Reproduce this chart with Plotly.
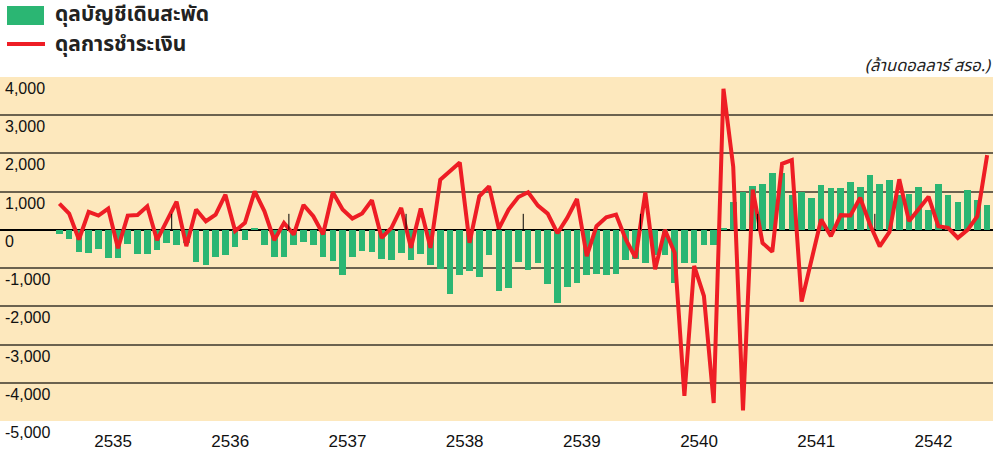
import plotly.graph_objects as go

years = [2535, 2536, 2537, 2538, 2539, 2540, 2541, 2542]
months_per_year = 12

# ดุลบัญชีเดินสะพัด (current account) - monthly, million USD
current_account = [
    -110, -240, -580, -610, -500, -740, -740, -374, -635, -635, -530, -348,      # 2535
    -400, -350, -840, -930, -700, -644, -435, -270, 60, -400, -722, -722,        # 2536
    -400, -305, -400, -700, -826, -1183, -722, -557, -583, -757, -792, -609,     # 2537
    -792, -635, -922, -1018, -1679, -1183, -1079, -1227, -661, -1600, -1523, -844,  # 2538
    -1053, -870, -1418, -1914, -1496, -1392, -1183, -1157, -1183, -1157, -792, -750,  # 2539
    -870, -644, -644, -1392, -870, -870, -403, -403, 60, 719, 1000, 1140,        # 2540
    1209, 1496, 1479, 922, 1000, 844, 1183, 1105, 1105, 1262, 1131, 1444,        # 2541
    1209, 1314, 922, 930, 1114, 509, 1193, 903, 719, 1035, 772, 640,             # 2542
]

# ดุลการชำระเงิน (balance of payments) - monthly, million USD
balance_of_payments = [
    687, 426, -252, 470, 374, 557, -479, 374, 391, 618, -270, 226,               # 2535
    740, -426, 531, 226, 400, 922, -30, 183, 1009, 487, -270, 183,               # 2536
    -122, 652, 357, -113, 983, 531, 296, 430, 774, -209, 52, 574,                # 2537
    -470, 557, -470, 1314, 1531, 1766, -339, 879, 1140, 35, 531, 861,            # 2538
    983, 635, 426, -87, 313, 809, -687, 96, 330, 400, -252, -731,                # 2539
    975, -1030, 0, -600, -4345, -940, -1730, -4530, 3690, 1650, -4720, 1057,     # 2540
    -340, -570, 1730, 1825, -1877, -824, 272, -167, 386, 377, 842, 140,          # 2541
    -430, -53, 1324, 228, 535, 868, 96, 53, -210, 0, 360, 1956,                  # 2542
]

y_ticks = [4000, 3000, 2000, 1000, 0, -1000, -2000, -3000, -4000, -5000]
y_tick_labels = ["4,000", "3,000", "2,000", "1,000", "0", "-1,000", "-2,000", "-3,000", "-4,000", "-5,000"]

legend_names = ["ดุลบัญชีเดินสะพัด", "ดุลการชำระเงิน"]
unit_label = "(ล้านดอลลาร์ สรอ.)"

GREEN = "#2BB673"
RED = "#EE1D25"
BG = "#FDE8BD"
THAI_FONT = "Tahoma, 'Noto Sans Thai', 'Loma', 'Garuda', 'DejaVu Sans', sans-serif"
NUM_FONT = "Arial, 'Liberation Sans', sans-serif"

W, H = 1002, 451
L, R, T, B = 0, 9, 77, 30
PW = W - L - R
PH = H - T - B

x = list(range(len(current_account)))
n_years = len(years)


def px2x(px):
    return (px - L) / PW


def py2y(py):
    return (H - B - py) / PH


fig = go.Figure()
fig.add_trace(go.Bar(x=x, y=current_account, marker=dict(color=GREEN, line=dict(width=0)),
                     width=0.68, name=legend_names[0], showlegend=False))
fig.add_trace(go.Scatter(x=x, y=balance_of_payments, mode="lines",
                         line=dict(color=RED, width=4), name=legend_names[1], showlegend=False))

shapes = []
# year boundary tick marks on the zero line
for k in range(1, n_years):
    xb = k * months_per_year - 0.5
    shapes.append(dict(type="line", xref="x", yref="y", x0=xb, x1=xb, y0=0, y1=420,
                       line=dict(color="black", width=1)))
# legend symbols
shapes.append(dict(type="rect", xref="paper", yref="paper",
                   x0=px2x(7), x1=px2x(44), y0=py2y(25), y1=py2y(6),
                   fillcolor=GREEN, line=dict(width=0)))
shapes.append(dict(type="line", xref="paper", yref="paper",
                   x0=px2x(7), x1=px2x(45), y0=py2y(44), y1=py2y(44),
                   line=dict(color=RED, width=4)))

annotations = []
annotations.append(dict(xref="paper", yref="paper", x=px2x(53), y=py2y(15), xanchor="left",
                        yanchor="middle", text="<b>" + legend_names[0] + "</b>", showarrow=False,
                        font=dict(family=THAI_FONT, size=21, color="#222")))
annotations.append(dict(xref="paper", yref="paper", x=px2x(53), y=py2y(44), xanchor="left",
                        yanchor="middle", text="<b>" + legend_names[1] + "</b>", showarrow=False,
                        font=dict(family=THAI_FONT, size=21, color="#222")))
annotations.append(dict(xref="paper", yref="paper", x=px2x(993), y=py2y(66), xanchor="right",
                        yanchor="middle", text="<i>" + unit_label + "</i>", showarrow=False,
                        font=dict(family=THAI_FONT, size=16.5, color="#222")))
for v, t in zip(y_ticks, y_tick_labels):
    annotations.append(dict(xref="paper", yref="y", x=px2x(3), y=v, xanchor="left", yanchor="top",
                            yshift=-1, text=t, showarrow=False,
                            font=dict(family=NUM_FONT, size=16, color="#111")))

fig.update_layout(
    width=W, height=H,
    margin=dict(l=L, r=R, t=T, b=B, pad=0),
    paper_bgcolor="white", plot_bgcolor=BG,
    bargap=0, showlegend=False,
    shapes=shapes, annotations=annotations,
    xaxis=dict(range=[-6.08, 95.6], tickvals=[k * months_per_year + 5.5 for k in range(n_years)],
               ticktext=[str(yv) for yv in years], showgrid=False, zeroline=False, ticks="",
               tickfont=dict(family=NUM_FONT, size=17, color="#111"), ticklabelstandoff=8,
               fixedrange=True),
    yaxis=dict(range=[-5000, 4000], tickvals=y_ticks, showticklabels=False, showgrid=True,
               gridcolor="#6b624f", gridwidth=1.5, zeroline=True, zerolinecolor="black",
               zerolinewidth=1.5, ticks="", fixedrange=True),
)

fig.write_html("out.html", config={"displayModeBar": False},
               post_script="document.body.style.margin='0';")
